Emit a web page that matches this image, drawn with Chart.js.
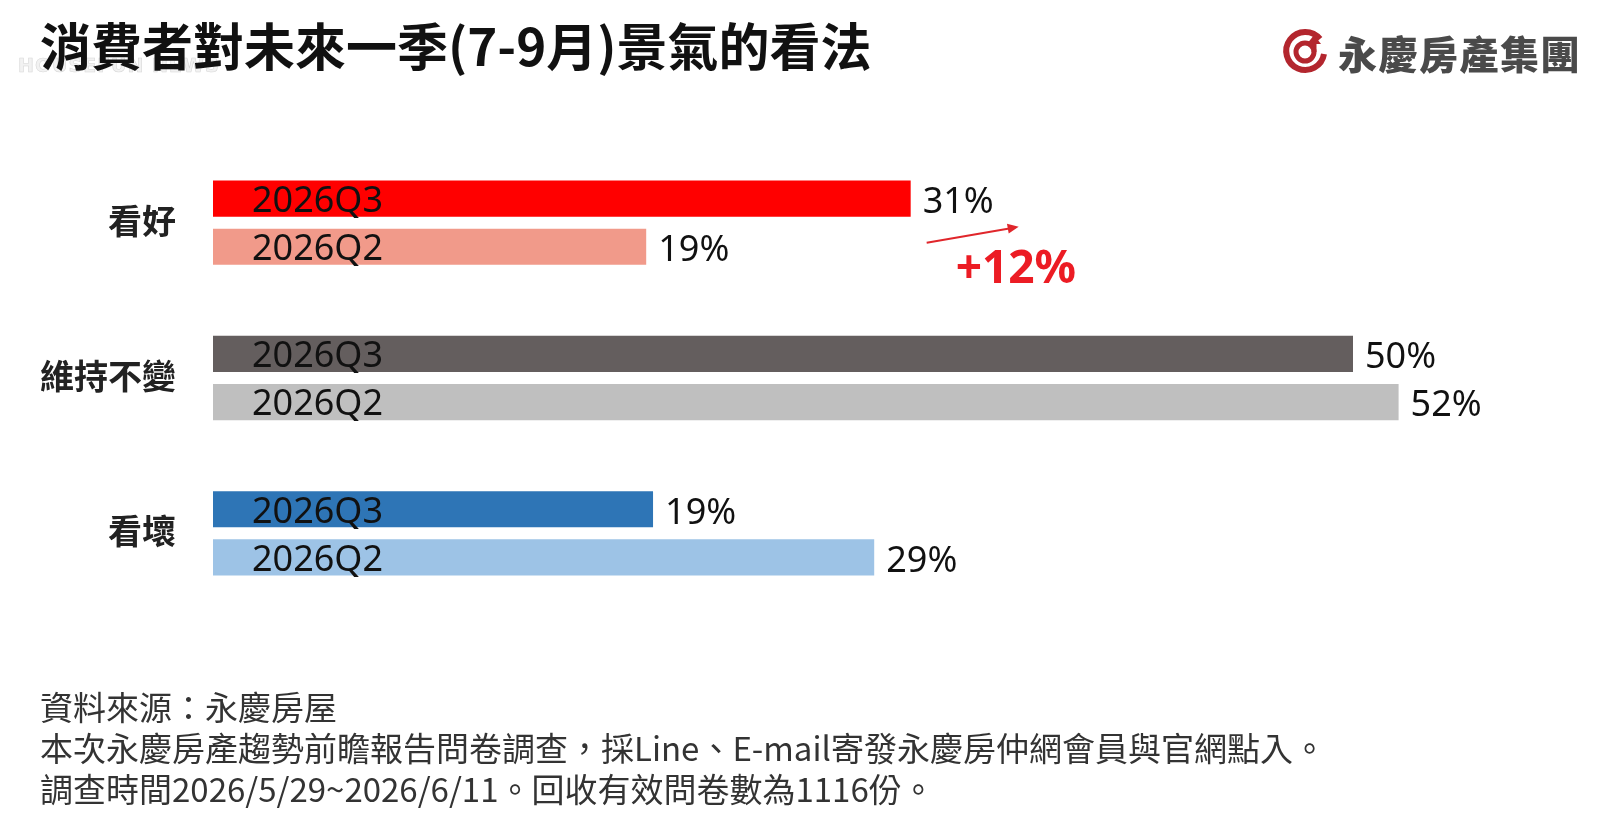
<!DOCTYPE html>
<html lang="zh-Hant">
<head>
<meta charset="utf-8">
<title>消費者對未來一季(7-9月)景氣的看法</title>
<script src="https://cdn.jsdelivr.net/npm/chart.js@4.4.1/dist/chart.umd.min.js"></script>
<style>
  html, body { margin: 0; padding: 0; background: #fff; }
  .page { position: relative; width: 1600px; height: 833px; overflow: hidden;
          font-family: "Noto Sans CJK TC", "Noto Sans", sans-serif; }
  .chart-box { position: absolute; left: 0; top: 0; width: 1600px; height: 833px; }
  .title { position: absolute; left: 40px; top: 13px; font-size: 51px; font-weight: 700;
           color: #111; line-height: 62px; white-space: nowrap; }
  .watermark { position: absolute; left: 18px; top: 54px; font-size: 19px; font-weight: 700;
               color: #f2f2f2; font-family: "DejaVu Sans", sans-serif; letter-spacing: 1px;
               -webkit-text-stroke: 0.6px #d8d8d8; }
  .logo { position: absolute; left: 1280px; top: 26px; height: 52px; display: flex; align-items: center; }
  .logo span { font-size: 39px; font-weight: 900; color: #4a4a4a; margin-left: 8px; letter-spacing: 1.5px; }
  .notes { position: absolute; left: 40px; top: 686px; font-size: 33px; line-height: 41px;
           color: #333; white-space: nowrap; }
</style>
</head>
<body>
<div class="page">
  <div class="chart-box"><canvas id="sentimentChart"></canvas></div>
  <div class="watermark">HOUSEFUN NEWS</div>
  <div class="title">消費者對未來一季(7-9月)景氣的看法</div>
  <div class="logo">
    <svg width="50" height="50" viewBox="0 0 50 50">
      <path d="M40 12 A19 19 0 1 0 44 27" fill="none" stroke="#b3262e" stroke-width="6"/>
      <circle cx="25" cy="25" r="9" fill="none" stroke="#b3262e" stroke-width="5"/>
      <path d="M34 25 L34 14" stroke="#b3262e" stroke-width="5" fill="none"/>
      <path d="M27 17 L34 8 L41 17 Z" fill="#b3262e"/>
    </svg>
    <span>永慶房產集團</span>
  </div>
  <div class="notes">
    資料來源：永慶房屋<br>
    本次永慶房產趨勢前瞻報告問卷調查，採Line、E-mail寄發永慶房仲網會員與官網點入。<br>
    調查時間2026/5/29~2026/6/11。回收有效問卷數為1116份。
  </div>
</div>

<script>
// Chart data (bar lengths, printed labels as shown)
const categories = ['看好', '維持不變', '看壞'];
const seriesNames = ['2026Q3', '2026Q2'];
const q3Values = [30.6, 50, 19.3];
const q2Values = [19, 52, 29];
const q3Labels = ['31%', '50%', '19%'];
const q2Labels = ['19%', '52%', '29%'];
const changeLabel = '+12%';

// Bar colours per category
const q3Colors = ['#ff0000', '#645e5e', '#2e75b6'];
const q2Colors = ['#f19a8a', '#bfbfbf', '#9dc3e6'];

const labelFont = '"Noto Sans", "Noto Sans CJK TC", sans-serif';
const printedLabels = [q3Labels, q2Labels];

// Series name inside each bar, value to the right of it
const barTextPlugin = {
    id: 'barText',
    afterDatasetsDraw(chart) {
        const ctx = chart.ctx;
        ctx.save();
        ctx.font = '36px ' + labelFont;
        ctx.fillStyle = '#111';
        ctx.textBaseline = 'middle';
        ctx.textAlign = 'left';
        chart.data.datasets.forEach((ds, di) => {
            const meta = chart.getDatasetMeta(di);
            meta.data.forEach((bar, i) => {
                ctx.fillText(ds.label, bar.base + 39, bar.y + 3);
                ctx.fillText(printedLabels[di][i], bar.x + 12, bar.y + 4);
            });
        });
        ctx.restore();
    }
};

// Red arrow with the change between quarters
const changePlugin = {
    id: 'changeNote',
    afterDraw(chart) {
        const ctx = chart.ctx;
        const x0 = chart.scales.x.getPixelForValue(q3Values[0]) + 16;
        const meta = chart.getDatasetMeta(1);
        const y0 = meta.data[0].y - 4;
        const x1 = x0 + 92, y1 = y0 - 16;
        ctx.save();
        ctx.strokeStyle = '#e0262b';
        ctx.fillStyle = '#e0262b';
        ctx.lineWidth = 2;
        ctx.beginPath();
        ctx.moveTo(x0, y0);
        ctx.lineTo(x1 - 8, y1 + 1.4);
        ctx.stroke();
        const ang = Math.atan2(y1 - y0, x1 - x0);
        ctx.beginPath();
        ctx.moveTo(x1, y1);
        ctx.lineTo(x1 - 11 * Math.cos(ang) + 5 * Math.sin(ang), y1 - 11 * Math.sin(ang) - 5 * Math.cos(ang));
        ctx.lineTo(x1 - 11 * Math.cos(ang) - 5 * Math.sin(ang), y1 - 11 * Math.sin(ang) + 5 * Math.cos(ang));
        ctx.closePath();
        ctx.fill();
        ctx.font = 'bold 46px ' + labelFont;
        ctx.textAlign = 'left';
        ctx.textBaseline = 'middle';
        ctx.fillStyle = '#ec1c24';
        ctx.fillText(changeLabel, x0 + 29, y0 + 27);
        ctx.restore();
    }
};

new Chart(document.getElementById('sentimentChart'), {
    type: 'bar',
    data: {
        labels: categories,
        datasets: [
            {
                label: seriesNames[0],
                data: q3Values,
                backgroundColor: q3Colors,
                barPercentage: 0.75,
                categoryPercentage: 0.62
            },
            {
                label: seriesNames[1],
                data: q2Values,
                backgroundColor: q2Colors,
                barPercentage: 0.75,
                categoryPercentage: 0.62
            }
        ]
    },
    options: {
        indexAxis: 'y',
        responsive: true,
        maintainAspectRatio: false,
        animation: false,
        layout: {
            padding: { left: 0, top: 145, bottom: 222, right: 19 }
        },
        plugins: {
            legend: { display: false },
            tooltip: { enabled: false }
        },
        scales: {
            x: {
                display: false,
                min: 0,
                max: 60
            },
            y: {
                grid: { display: false, drawTicks: false },
                border: { display: false },
                ticks: {
                    color: '#222',
                    padding: 37,
                    labelOffset: -2,
                    font: { size: 34, weight: 'bold', family: '"Noto Sans CJK TC", sans-serif' }
                },
                afterFit(axis) {
                    axis.width = 213;
                }
            }
        }
    },
    plugins: [barTextPlugin, changePlugin]
});
</script>
</body>
</html>
